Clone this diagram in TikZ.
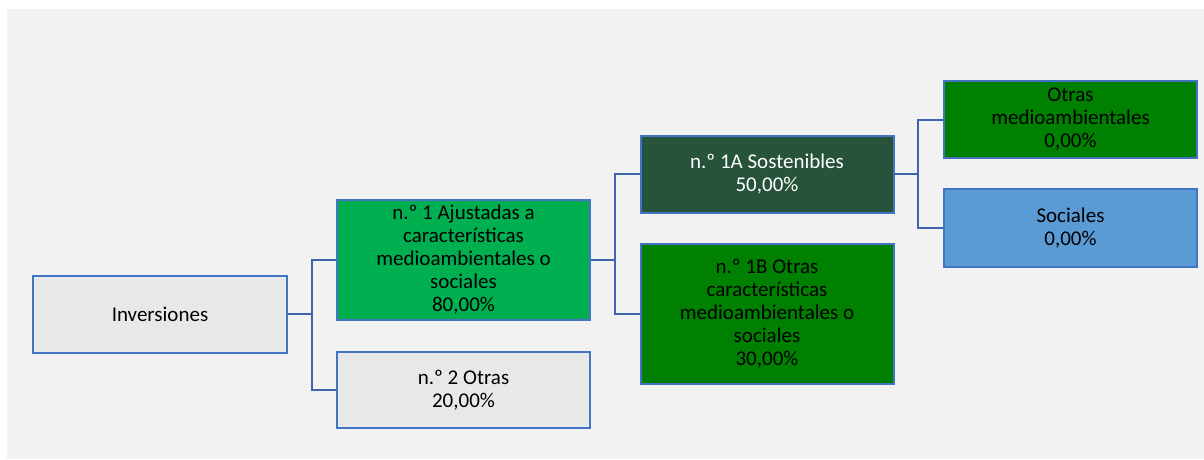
\documentclass[tikz,border=0pt]{standalone}
\usepackage{fontspec}
\setmainfont{Carlito}
\definecolor{bgc}{HTML}{F2F2F2}
\definecolor{edgec}{HTML}{4472C4}
\definecolor{linec}{HTML}{3F64B0}
\definecolor{grayc}{HTML}{E7E9E8}
\definecolor{brightg}{HTML}{00B050}
\definecolor{darkg}{HTML}{27533A}
\definecolor{midg}{HTML}{008000}
\definecolor{bluec}{HTML}{5B9BD5}
\tikzset{
  box/.style={draw=edgec, line width=2pt, minimum width=253pt, align=center, inner sep=0pt,
    font=\fontsize{21}{23}\selectfont, text=black},
  conn/.style={draw=linec, line width=2pt}
}
\begin{document}
\begin{tikzpicture}[x=1pt,y=-1pt]
\useasboundingbox (0,0) rectangle (1204,459);
\fill[white] (0,0) rectangle (1204,459);
\fill[bgc] (7,9) rectangle (1204,459);
\node[box, fill=grayc, minimum width=254pt, minimum height=77pt] (inv) at (160,314) {Inversiones};
\node[box, fill=brightg, minimum height=120pt] (n1) at (463.5,260) {n.º 1 Ajustadas a\\características\\medioambientales o\\sociales\\80,00\%};
\node[box, fill=grayc, minimum height=76pt] (n2) at (463.5,390) {n.º 2 Otras\\20,00\%};
\node[box, fill=darkg, text=white, minimum height=77pt] (n1a) at (767,174) {n.º 1A Sostenibles\\50,00\%};
\node[box, fill=midg, minimum height=140pt] (n1b) at (767,314) {n.º 1B Otras\\características\\medioambientales o\\sociales\\30,00\%};
\node[box, fill=midg, minimum height=77pt] (om) at (1070.5,119.5) {Otras\\medioambientales\\0,00\%};
\node[box, fill=bluec, minimum height=78pt] (so) at (1070.5,228) {Sociales\\0,00\%};
\coordinate (j1) at (312,314);
\coordinate (j2) at (615,260);
\coordinate (j3) at (918,174);
\draw[conn] (inv.east) -- (j1);
\draw[conn] (j1) |- (n1.west);
\draw[conn] (j1) |- (n2.west);
\draw[conn] (n1.east) -- (j2);
\draw[conn] (j2) |- (n1a.west);
\draw[conn] (j2) |- (n1b.west);
\draw[conn] (n1a.east) -- (j3);
\draw[conn] (j3) |- (om.west);
\draw[conn] (j3) |- (so.west);
\end{tikzpicture}
\end{document}
